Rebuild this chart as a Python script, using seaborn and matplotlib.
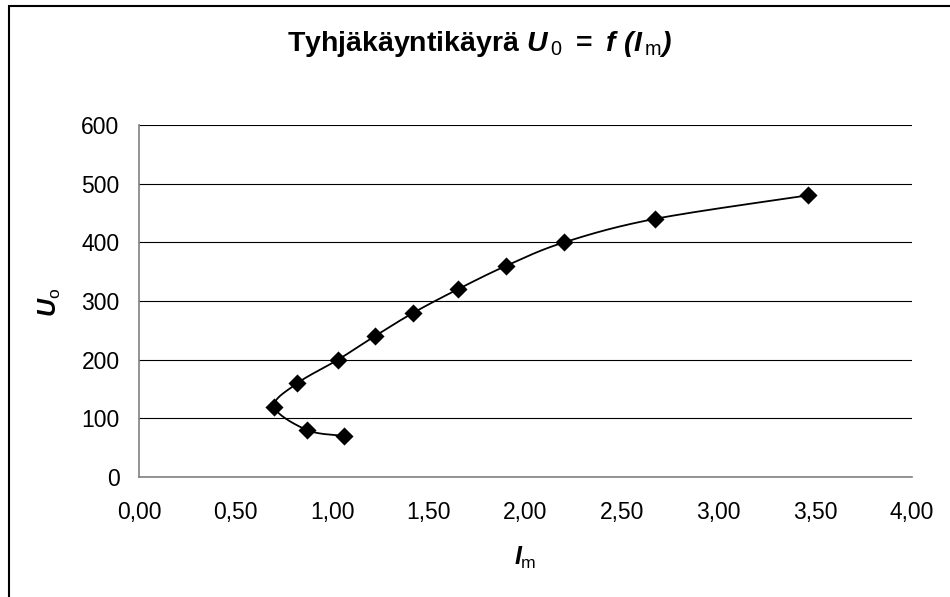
import numpy as np
import pandas as pd
import matplotlib
matplotlib.use("Agg")
import matplotlib.pyplot as plt
import matplotlib.patches as mpatches
from matplotlib.ticker import FuncFormatter
import seaborn as sns

# ---- data ----
i_m = [1.06, 0.87, 0.70, 0.82, 1.03, 1.22, 1.42, 1.65, 1.90, 2.20, 2.67, 3.46]
u_0 = [70, 80, 120, 160, 200, 240, 280, 320, 360, 400, 440, 480]
x_ticks = [0.0, 0.5, 1.0, 1.5, 2.0, 2.5, 3.0, 3.5, 4.0]
y_ticks = [0, 100, 200, 300, 400, 500, 600]
title_text = r"$\mathbf{Tyhjäkäyntikäyrä}\ U_{\,\mathsf{0}}\ \mathbf{=}\ f\ (I_{\,\mathsf{m}})$"
x_label = r"$I_{\mathsf{m}}$"
y_label = r"$U_{\mathsf{o}}$"

sns.set_theme(style="white")
plt.rcParams["font.family"] = ["Liberation Sans", "DejaVu Sans"]
plt.rcParams["text.color"] = "black"
plt.rcParams["mathtext.fontset"] = "custom"
plt.rcParams["mathtext.rm"] = "Liberation Sans:bold:italic"
plt.rcParams["mathtext.it"] = "Liberation Sans:bold:italic"
plt.rcParams["mathtext.bf"] = "Liberation Sans:bold"
plt.rcParams["mathtext.sf"] = "Liberation Sans"
plt.rcParams["mathtext.default"] = "it"

fig = plt.figure(figsize=(9.5, 5.97), dpi=100)
fig.patch.set_facecolor("white")
ax = fig.add_axes([139 / 950, 1 - 477 / 597, (912 - 139) / 950, (477 - 125) / 597])

# smoothed line (Excel style Bezier smoothing through the data points)
xmin, xmax, ymin, ymax = 0.0, 4.0, 0.0, 600.0
W, H = 773.0, 352.0
P = np.column_stack([(np.array(i_m) - xmin) / (xmax - xmin) * W,
                     (np.array(u_0) - ymin) / (ymax - ymin) * H])
Pext = np.vstack([P[0], P, P[-1]])
curve = []
tt = np.linspace(0, 1, 40)
for k in range(len(P) - 1):
    p0, p1 = Pext[k + 1], Pext[k + 2]
    c1 = p0 + (Pext[k + 2] - Pext[k]) / 6.0
    c2 = p1 - (Pext[k + 3] - Pext[k + 1]) / 6.0
    seg = ((1 - tt) ** 3)[:, None] * p0 + (3 * (1 - tt) ** 2 * tt)[:, None] * c1 \
        + (3 * (1 - tt) * tt ** 2)[:, None] * c2 + (tt ** 3)[:, None] * p1
    curve.append(seg if k == 0 else seg[1:])
curve = np.vstack(curve)
line_df = pd.DataFrame({"x": curve[:, 0] / W * (xmax - xmin) + xmin,
                        "y": curve[:, 1] / H * (ymax - ymin) + ymin})
sns.lineplot(data=line_df, x="x", y="y", sort=False, estimator=None,
             color="black", linewidth=1.3, ax=ax, zorder=3)

pts = pd.DataFrame({"Im": i_m, "U0": u_0})
sns.scatterplot(data=pts, x="Im", y="U0", marker="D", s=85, color="black",
                edgecolor="black", linewidth=0, ax=ax, zorder=4)

ax.set_xlim(xmin, xmax)
ax.set_ylim(ymin, ymax)
ax.set_xticks(x_ticks)
ax.set_yticks(y_ticks)
ax.xaxis.set_major_formatter(FuncFormatter(lambda v, p: f"{v:.2f}".replace(".", ",")))
ax.yaxis.set_major_formatter(FuncFormatter(lambda v, p: f"{v:.0f}"))

ax.yaxis.grid(True, color="black", linewidth=0.8)
ax.xaxis.grid(False)
ax.set_axisbelow(True)
for side in ["top", "right"]:
    ax.spines[side].set_visible(False)
for side in ["left", "bottom"]:
    ax.spines[side].set_color("#808080")
    ax.spines[side].set_linewidth(1.2)

ax.tick_params(axis="both", which="major", direction="out", length=5, width=1,
               color="#808080", labelsize=16.5, labelcolor="black")
ax.tick_params(axis="x", pad=12)
ax.tick_params(axis="y", pad=9)

ax.set_xlabel("")
ax.set_ylabel("")
fig.text(525 / 950, 1 - 558 / 597, x_label, ha="center", va="center", fontsize=18)
fig.text(50 / 950, 1 - 302 / 597, y_label, ha="center", va="center", fontsize=18,
         rotation=90)
fig.text(480 / 950, 1 - 44 / 597, title_text, ha="center", va="center", fontsize=20.5)

# chart border (top and left edges visible, rest runs off the image)
border = mpatches.Rectangle((9 / 950, -0.2), 1.5, 1.2 - 6 / 597, transform=fig.transFigure,
                            fill=False, edgecolor="black", linewidth=1.5)
fig.patches.append(border)

fig.savefig("out.png", dpi=100, facecolor="white")
